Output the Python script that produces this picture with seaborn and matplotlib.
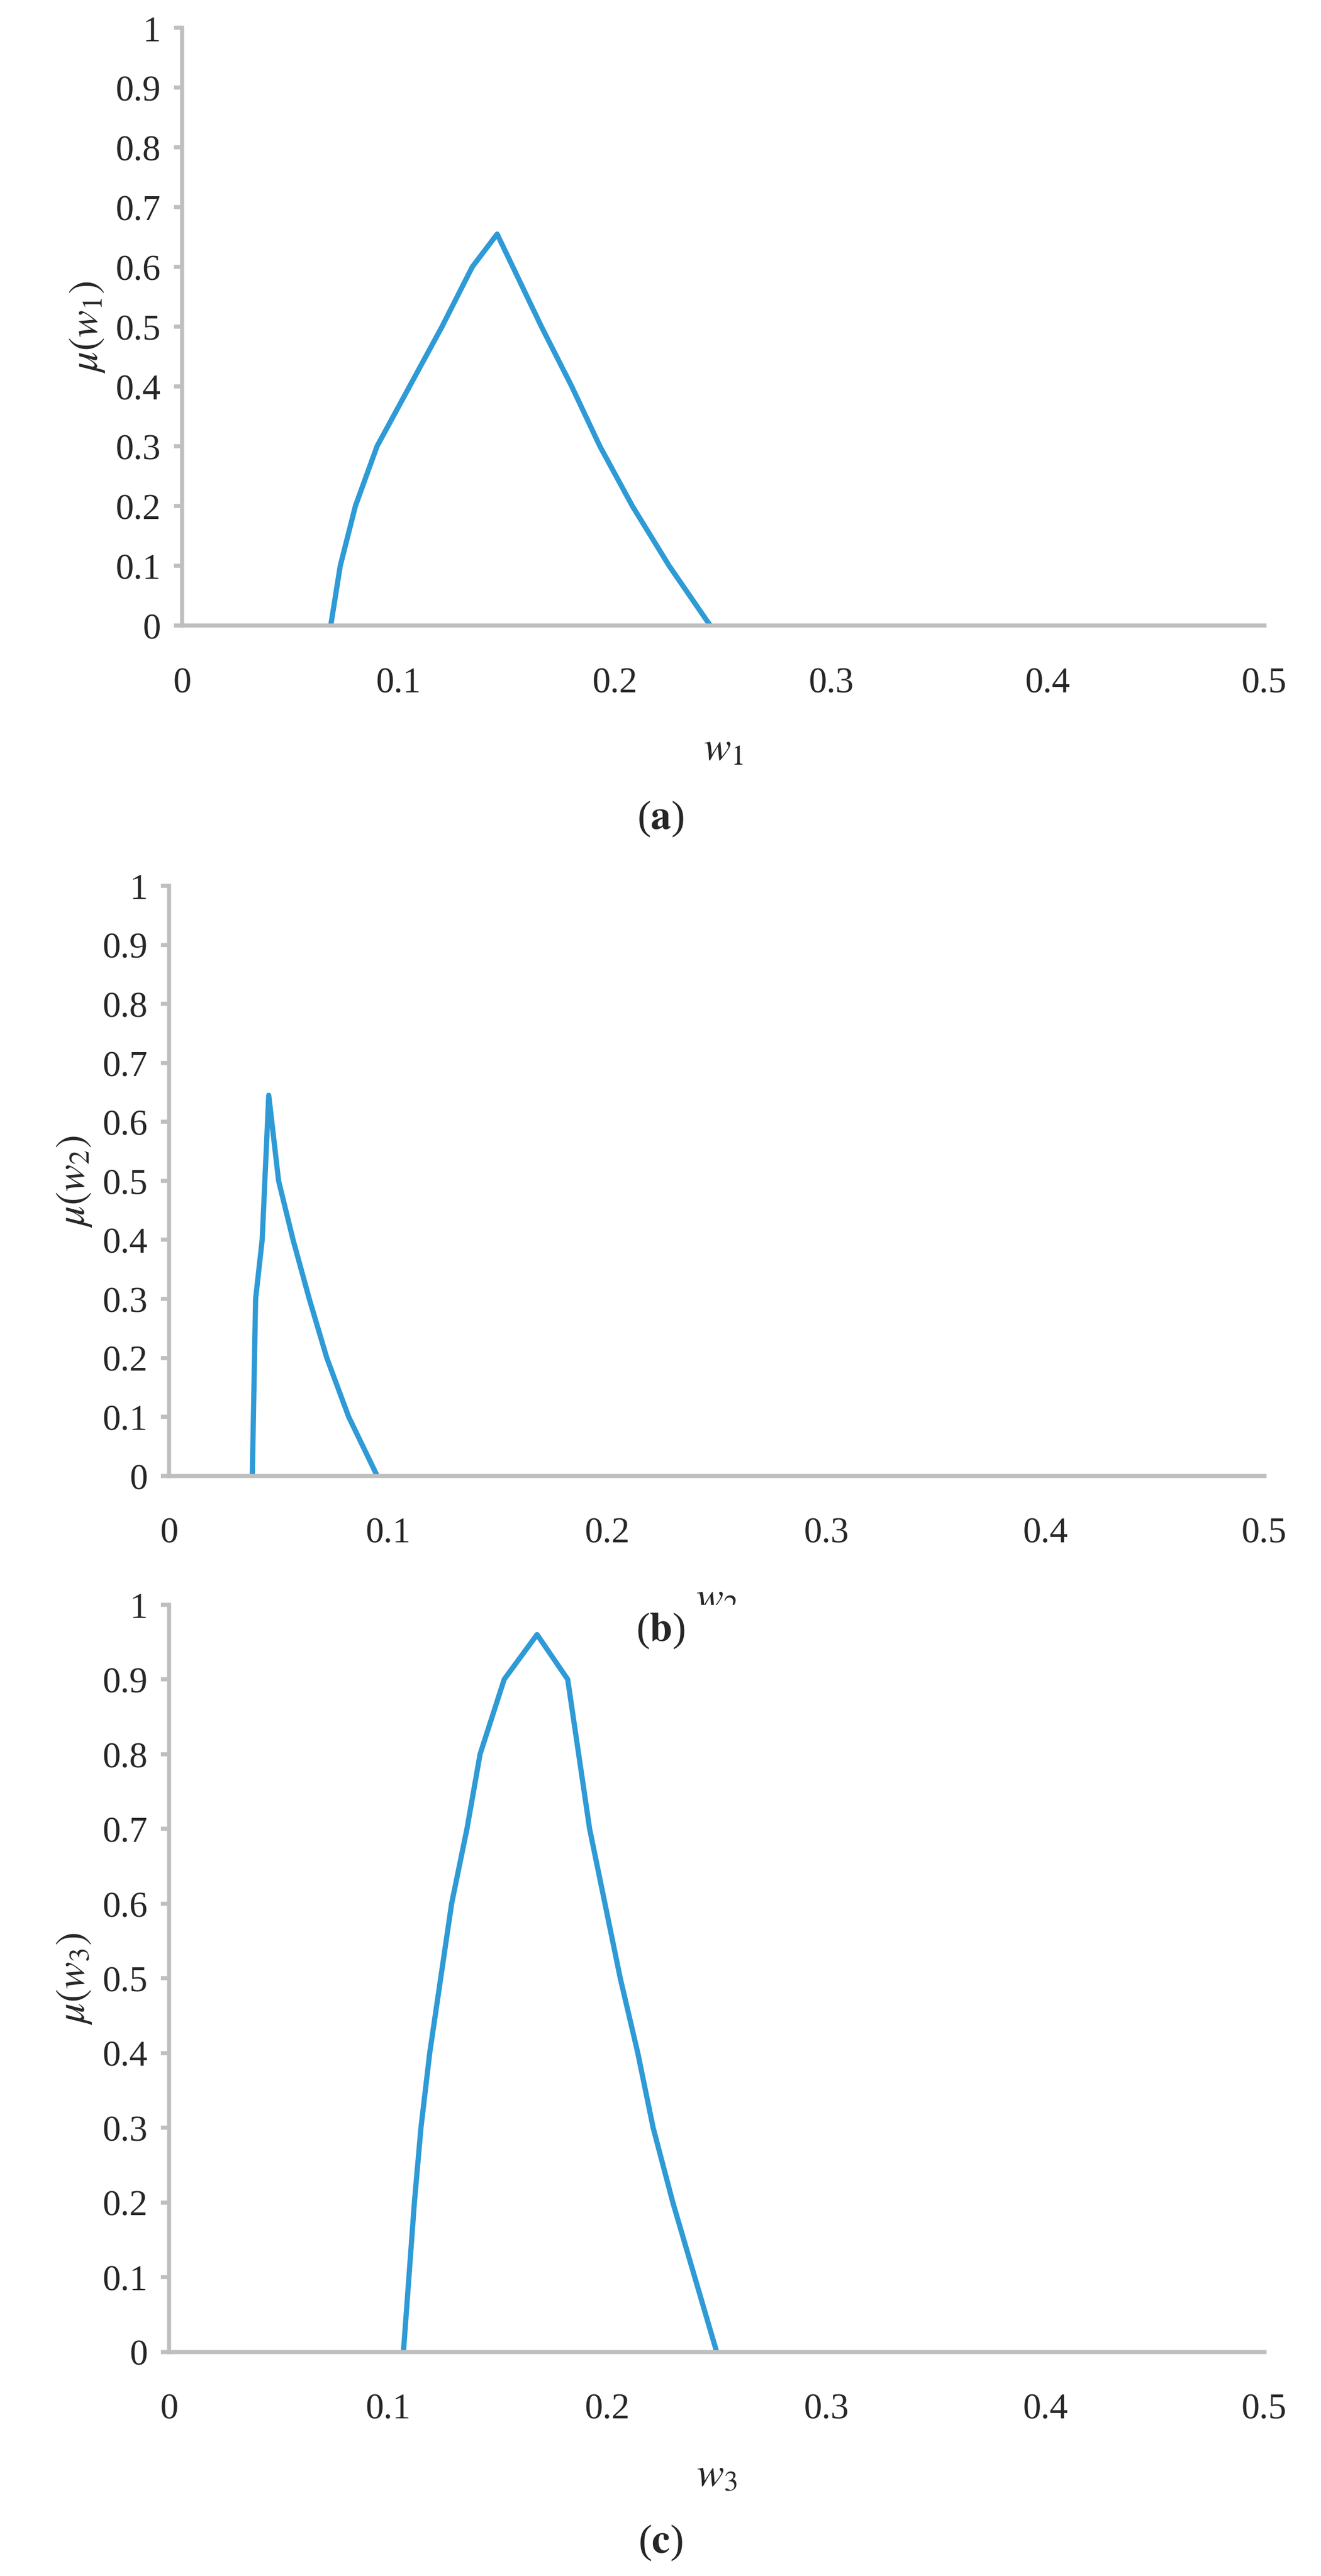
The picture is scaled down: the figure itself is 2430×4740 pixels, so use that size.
import matplotlib
matplotlib.use("Agg")
import matplotlib.pyplot as plt
import seaborn as sns
import pandas as pd

sns.set_style("white")
plt.rcParams['font.family'] = ['Liberation Serif', 'DejaVu Serif']
plt.rcParams['mathtext.fontset'] = 'stix'

w1_x = [0.0686, 0.073, 0.080, 0.090, 0.105, 0.120, 0.134, 0.1455, 0.166, 0.180, 0.193, 0.208, 0.225, 0.244]
w1_y = [0, 0.1, 0.2, 0.3, 0.4, 0.5, 0.6, 0.655, 0.5, 0.4, 0.3, 0.2, 0.1, 0]
w2_x = [0.038, 0.0395, 0.0425, 0.0455, 0.050, 0.0566, 0.064, 0.072, 0.082, 0.095]
w2_y = [0, 0.3, 0.4, 0.645, 0.5, 0.4, 0.3, 0.2, 0.1, 0]
w3_x = [0.107, 0.1095, 0.112, 0.115, 0.119, 0.124, 0.129, 0.136, 0.142, 0.153, 0.168,
        0.182, 0.187, 0.192, 0.199, 0.206, 0.214, 0.221, 0.230, 0.240, 0.250]
w3_y = [0, 0.1, 0.2, 0.3, 0.4, 0.5, 0.6, 0.7, 0.8, 0.9, 0.96,
        0.9, 0.8, 0.7, 0.6, 0.5, 0.4, 0.3, 0.2, 0.1, 0]
x_ticks = [0, 0.1, 0.2, 0.3, 0.4, 0.5]
y_ticks = [0, 0.1, 0.2, 0.3, 0.4, 0.5, 0.6, 0.7, 0.8, 0.9, 1]
panels = [("a", "1", w1_x, w1_y), ("b", "2", w2_x, w2_y), ("c", "3", w3_x, w3_y)]

fig = plt.figure(figsize=(8.1, 15.803), dpi=300)
rects = [[0.138, 0.757, 0.819, 0.232], [0.128, 0.427, 0.829, 0.229], [0.128, 0.087, 0.829, 0.290]]
cap_y = [0.682, 0.367, 0.013]
for (lab, idx, xs, ys), r, cy in zip(panels, rects, cap_y):
    ax = fig.add_axes(r)
    df = pd.DataFrame({"x": xs, "y": ys})
    sns.lineplot(data=df, x="x", y="y", ax=ax, color="#2E9AD6", linewidth=2.3, sort=False)
    ax.set_xlim(0, 0.5); ax.set_ylim(0, 1)
    ax.set_xticks(x_ticks); ax.set_xticklabels([f"{t:g}" for t in x_ticks])
    ax.set_yticks(y_ticks); ax.set_yticklabels([f"{t:g}" for t in y_ticks])
    ax.tick_params(axis="x", labelsize=16, length=0, pad=18)
    ax.tick_params(axis="y", labelsize=16, length=3.5, width=1.8, color="#BFBFBF",
                   direction="out", left=True, pad=6)
    for s in ["top", "right"]:
        ax.spines[s].set_visible(False)
    for s in ["left", "bottom"]:
        ax.spines[s].set_color("#BFBFBF"); ax.spines[s].set_linewidth(1.8)
    ax.set_xlabel(rf"$w_{idx}$", fontsize=18, labelpad=14)
    ax.set_ylabel(rf"$\mu(w_{idx})$", fontsize=18, labelpad=4)
    fig.text(0.5, cy, rf"($\mathbf{{{lab}}}$)", ha="center", va="center", fontsize=18)

fig.savefig("out.png", dpi=300)
